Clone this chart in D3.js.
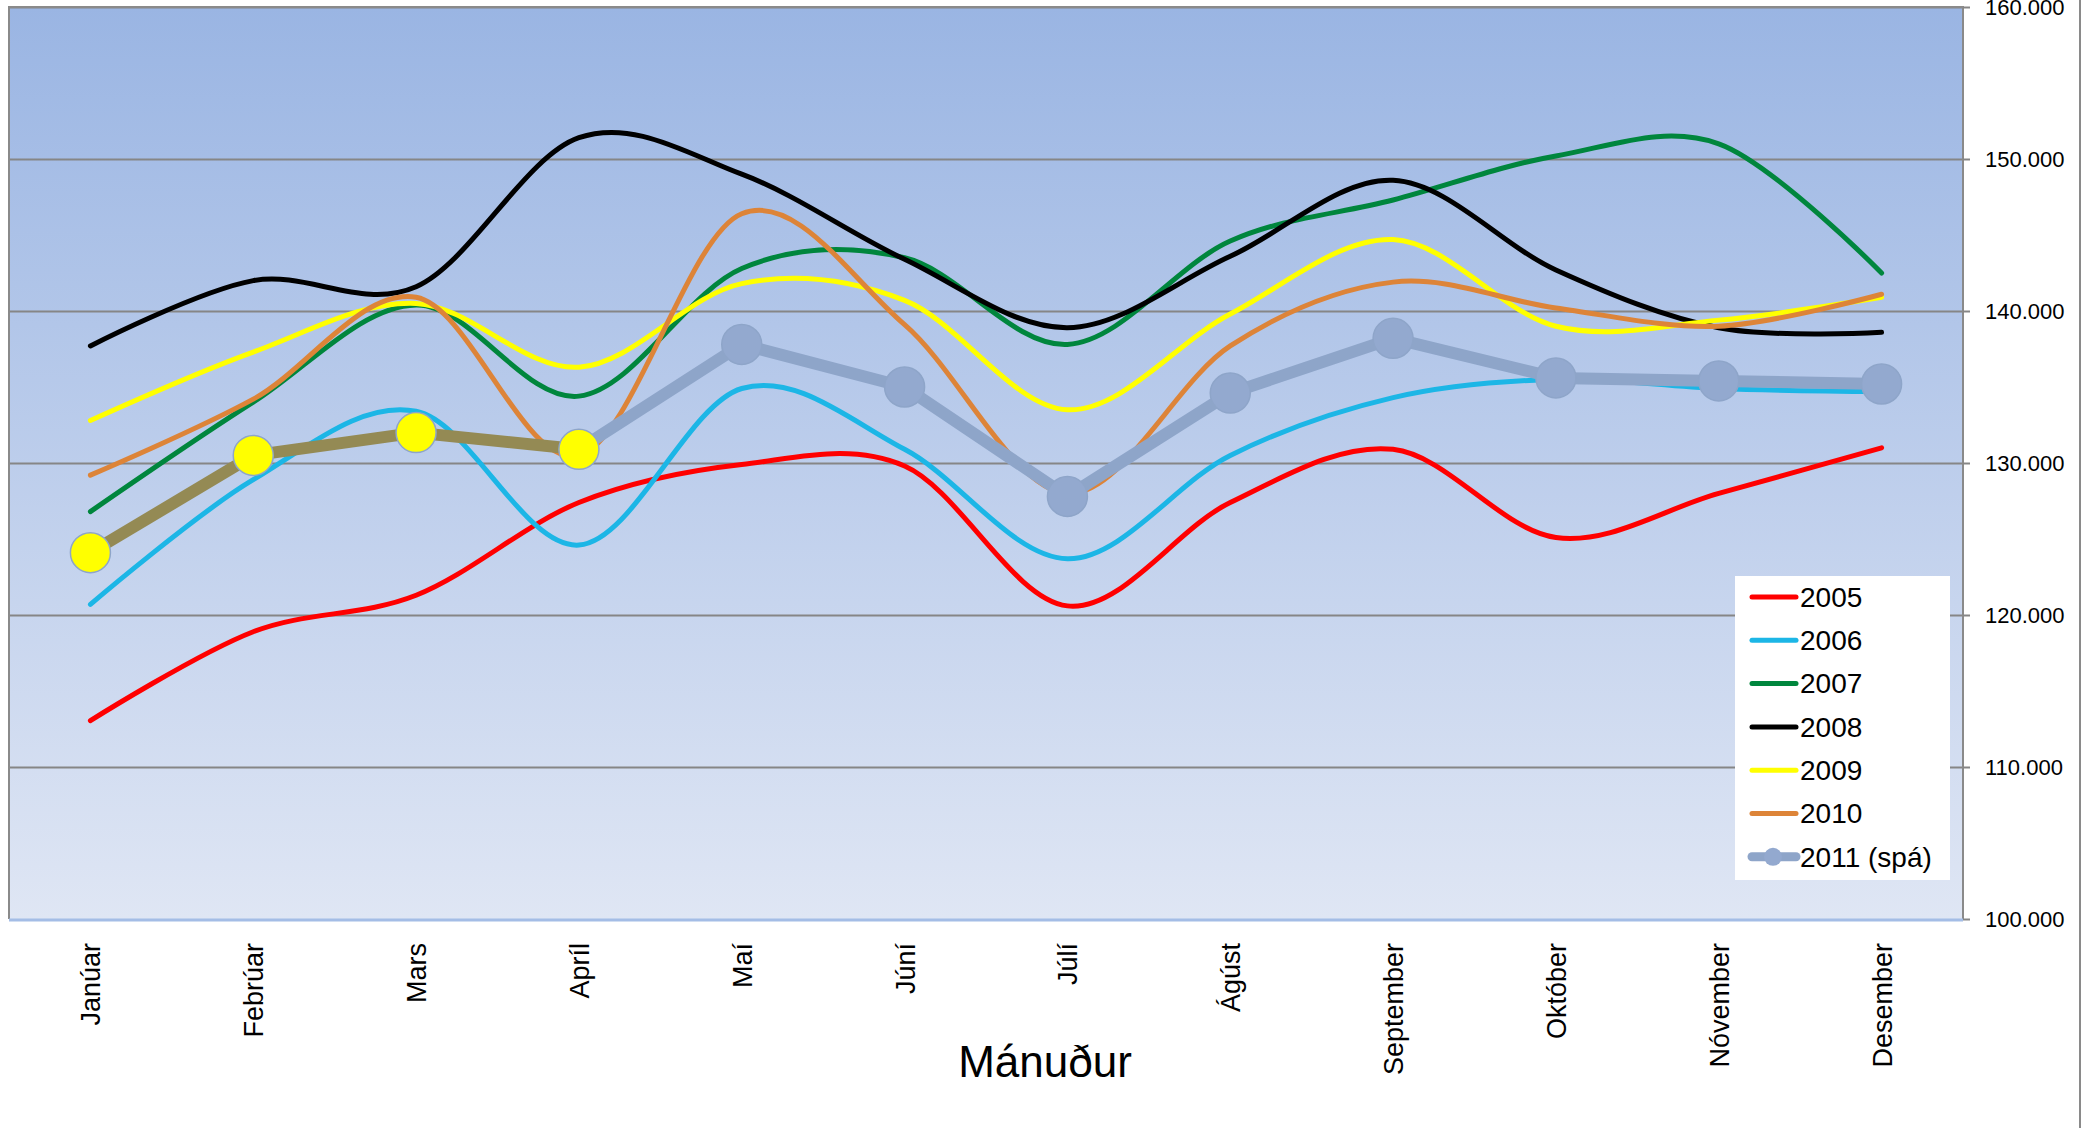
<!DOCTYPE html>
<html>
<head>
<meta charset="utf-8">
<script src="https://cdn.jsdelivr.net/npm/d3@7"></script>
<style>
  html, body { margin: 0; padding: 0; background: #fff; }
  svg text { font-family: "Liberation Sans", Arial, sans-serif; fill: #000; }
</style>
</head>
<body>
<svg id="chart" width="2088" height="1128"></svg>
<script>
// Months along the bottom axis.
var months = ['Janúar', 'Febrúar', 'Mars', 'Apríl', 'Maí', 'Júní', 'Júlí',
  'Ágúst', 'September', 'Október', 'Nóvember', 'Desember'];

// Yearly series.
var s2005 = [113050, 118900, 121300, 127400, 129900, 129800, 120600, 127400, 130900, 125100, 128000, 131000];
var s2006 = [120700, 128900, 133400, 124600, 134900, 130900, 123700, 130500, 134300, 135500, 134900, 134700];
var s2007 = [126800, 134000, 140400, 134400, 142800, 143500, 137800, 144600, 147300, 150200, 151000, 142500];
var s2008 = [137700, 142000, 141600, 151400, 149000, 143400, 138900, 143600, 148600, 142700, 138900, 138600];
var s2009 = [132800, 137300, 140500, 136300, 141800, 140700, 133500, 139800, 144700, 139000, 139400, 140900];
var s2010 = [129200, 134200, 140900, 130500, 146400, 139100, 128000, 137700, 141900, 140200, 139000, 141100];
var s2011 = [124100, 130500, 132000, 130900, 137800, 135000, 127800, 134600, 138200, 135600, 135400, 135200];

// Number of 2011 months that are actual figures (the rest is forecast).
var known2011 = 4;

// Names shown in the legend.
var seriesNames = ['2005', '2006', '2007', '2008', '2009', '2010', '2011 (spá)'];

// Right hand axis ticks.
var yTicks = [100000, 110000, 120000, 130000, 140000, 150000, 160000];

// Namespace for the chart.
var ch = {

  // Plot box in pixels.
  LEFT: 9,
  RIGHT: 1963,
  TOP: 7,
  BOTTOM: 919,

  // Line colors, one per year.
  colors: ['#ff0000', '#1cb6e6', '#00863d', '#000000', '#ffff00', '#dd8438'],

  // Colors for the 2011 line.
  knownLine: '#948a54',
  knownDot: '#ffff00',
  spaLine: '#8ea5c9',
  spaDot: '#93a9cf',

  init: function() {
    var svg = d3.select('#chart');

    ch.x = d3.scalePoint().domain(months).range([ch.LEFT, ch.RIGHT]).padding(0.5);
    ch.y = d3.scaleLinear().domain([100000, 160000]).range([ch.BOTTOM, ch.TOP]);

    ch.drawBackground(svg);
    ch.drawAxes(svg);
    ch.drawLines(svg);
    ch.drawLegend(svg);
  },

  /**
   * Gradient plot area, grid lines and borders.
   */
  drawBackground: function(svg) {
    var grad = svg.append('defs').append('linearGradient')
      .attr('id', 'bg').attr('x1', 0).attr('y1', 0).attr('x2', 0).attr('y2', 1);
    grad.append('stop').attr('offset', '0%').attr('stop-color', '#9ab5e3');
    grad.append('stop').attr('offset', '100%').attr('stop-color', '#dfe6f4');

    svg.append('rect')
      .attr('x', ch.LEFT).attr('y', ch.TOP)
      .attr('width', ch.RIGHT - ch.LEFT).attr('height', ch.BOTTOM - ch.TOP)
      .attr('fill', 'url(#bg)');

    // Horizontal grid lines.
    svg.append('g')
      .attr('transform', 'translate(' + ch.LEFT + ',0)')
      .call(d3.axisRight(ch.y).tickValues(yTicks).tickSize(ch.RIGHT - ch.LEFT).tickFormat(''))
      .call(function(g) {
        g.select('.domain').remove();
        g.selectAll('line').attr('stroke', '#868686').attr('stroke-width', 2);
        g.selectAll('.tick').filter(function(d) { return d === 100000; }).remove();
      });

    // Borders: grey left/top/right, light blue bottom.
    svg.append('path')
      .attr('d', 'M' + ch.LEFT + ',' + ch.BOTTOM + 'V' + ch.TOP + 'H' + ch.RIGHT + 'V' + ch.BOTTOM)
      .attr('fill', 'none').attr('stroke', '#8a8a8a').attr('stroke-width', 2);
    svg.append('line')
      .attr('x1', ch.LEFT).attr('x2', ch.RIGHT)
      .attr('y1', ch.BOTTOM + 1).attr('y2', ch.BOTTOM + 1)
      .attr('stroke', '#a4bde6').attr('stroke-width', 3);

    // Outer frame edge on the far right.
    svg.append('line')
      .attr('x1', 2080).attr('x2', 2080).attr('y1', 0).attr('y2', 1128)
      .attr('stroke', '#8a8a8a').attr('stroke-width', 2);
  },

  /**
   * Value axis on the right, months below, and the axis title.
   */
  drawAxes: function(svg) {
    var is = d3.formatLocale({decimal: ',', thousands: '.', grouping: [3], currency: ['', ' kr']});

    svg.append('g')
      .attr('transform', 'translate(' + ch.RIGHT + ',0)')
      .call(d3.axisRight(ch.y).tickValues(yTicks).tickSize(7).tickPadding(15).tickFormat(is.format(',')))
      .call(function(g) {
        g.select('.domain').remove();
        g.selectAll('line').attr('stroke', '#868686').attr('stroke-width', 2);
        g.selectAll('text').attr('font-size', 22).attr('font-family', null);
      });

    svg.append('g')
      .attr('transform', 'translate(0,' + ch.BOTTOM + ')')
      .call(d3.axisBottom(ch.x).tickSize(0))
      .call(function(g) {
        g.select('.domain').remove();
        g.selectAll('text')
          .attr('font-size', 27).attr('font-family', null)
          .attr('transform', 'rotate(-90)')
          .attr('text-anchor', 'end')
          .attr('x', -24).attr('y', 0).attr('dy', '0.35em');
      });

    svg.append('text')
      .attr('x', 1045).attr('y', 1077)
      .attr('text-anchor', 'middle')
      .attr('font-size', 44)
      .text('Mánuður');
  },

  /**
   * Smoothed yearly lines, then the 2011 line with its markers on top.
   */
  drawLines: function(svg) {
    var smooth = d3.line()
      .x(function(d, i) { return ch.x(months[i]); })
      .y(function(d) { return ch.y(d); })
      .curve(d3.curveCatmullRom.alpha(0));

    [s2005, s2006, s2007, s2008, s2009, s2010].forEach(function(s, k) {
      svg.append('path')
        .attr('d', smooth(s))
        .attr('fill', 'none')
        .attr('stroke', ch.colors[k])
        .attr('stroke-width', 5)
        .attr('stroke-linecap', 'round');
    });

    var pts = s2011.map(function(v, i) { return {m: months[i], v: v, i: i}; });
    var straight = d3.line()
      .x(function(d) { return ch.x(d.m); })
      .y(function(d) { return ch.y(d.v); });

    svg.append('path')
      .attr('d', straight(pts.slice(known2011 - 1)))
      .attr('fill', 'none').attr('stroke', ch.spaLine)
      .attr('stroke-width', 12).attr('stroke-linejoin', 'round');
    svg.append('path')
      .attr('d', straight(pts.slice(0, known2011)))
      .attr('fill', 'none').attr('stroke', ch.knownLine)
      .attr('stroke-width', 12).attr('stroke-linejoin', 'round');

    svg.selectAll('.dot').data(pts).enter().append('circle')
      .attr('class', 'dot')
      .attr('cx', function(d) { return ch.x(d.m); })
      .attr('cy', function(d) { return ch.y(d.v); })
      .attr('r', 20)
      .attr('fill', function(d) { return d.i < known2011 ? ch.knownDot : ch.spaDot; })
      .attr('stroke', ch.spaLine)
      .attr('stroke-width', 1.5);
  },

  /**
   * White legend box in the lower right of the plot.
   */
  drawLegend: function(svg) {
    var lg = svg.append('g').attr('transform', 'translate(1735,576)');
    lg.append('rect').attr('width', 215).attr('height', 304).attr('fill', '#fff');

    seriesNames.forEach(function(name, k) {
      var cy = 21 + k * 43.3;
      var last = k === seriesNames.length - 1;
      lg.append('line')
        .attr('x1', 17).attr('x2', 61).attr('y1', cy).attr('y2', cy)
        .attr('stroke', last ? ch.spaLine : ch.colors[k])
        .attr('stroke-width', last ? 9 : 5)
        .attr('stroke-linecap', 'round');
      if (last) {
        lg.append('circle').attr('cx', 38).attr('cy', cy).attr('r', 9).attr('fill', ch.spaDot);
      }
      lg.append('text')
        .attr('x', 65).attr('y', cy).attr('dy', '0.35em')
        .attr('font-size', 28)
        .text(name);
    });
  }
};

ch.init();
</script>
</body>
</html>
